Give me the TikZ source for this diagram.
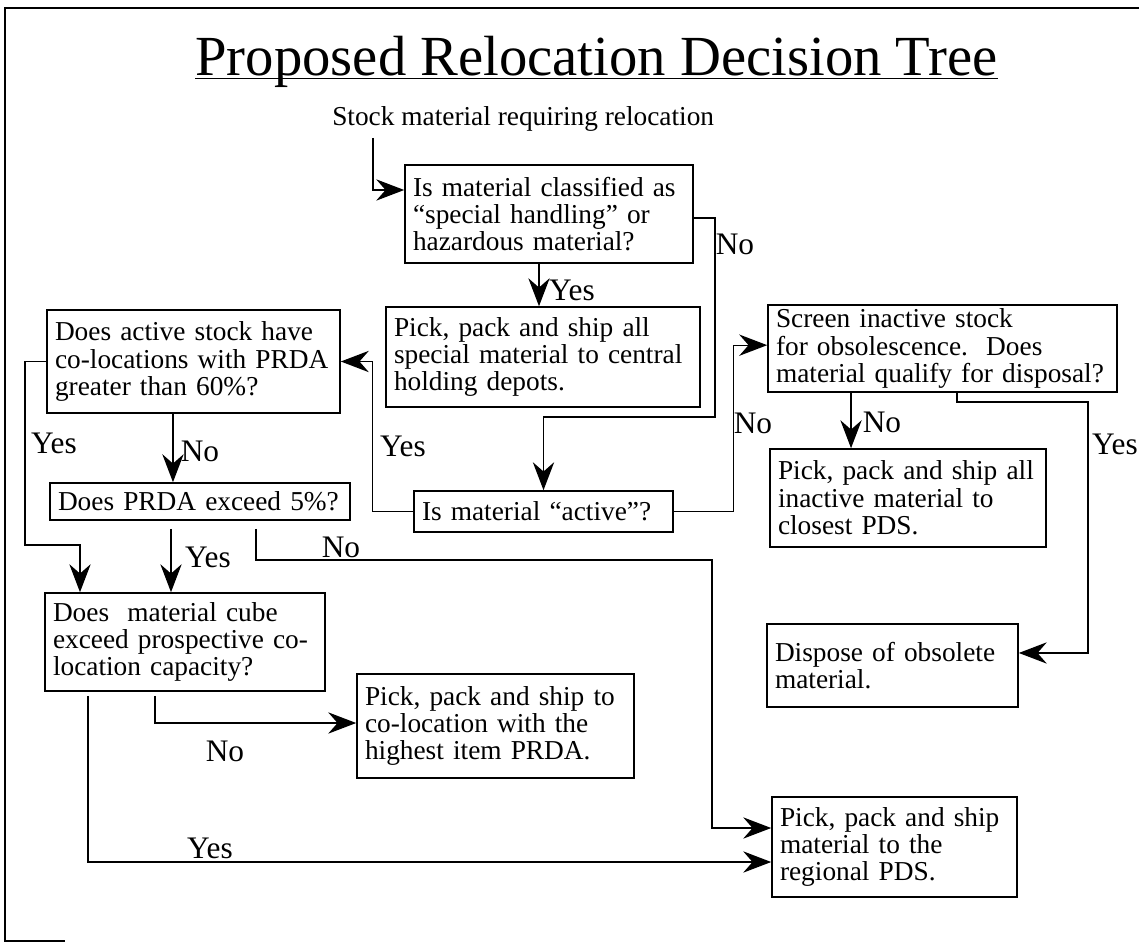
\documentclass[tikz,border=0pt]{standalone}
\usepackage{fontspec}
\setmainfont{Liberation Serif}
\usetikzlibrary{arrows.meta, positioning}
\newcommand\boxfont{\fontsize{20.5}{20.5}\selectfont}
\newcommand\lblfont{\fontsize{23.5}{23.5}\selectfont}
\newcommand\ttlfont{\fontsize{42.5}{42.5}\selectfont}

\begin{document}
\begin{tikzpicture}[x=0.75pt, y=-0.75pt,
		box/.style={draw, line width=1.2pt, align=left, inner xsep=6pt, inner ysep=0pt, font=\boxfont},
		lbl/.style={inner sep=0pt, font=\lblfont},
		arr/.style={-{Stealth[length=21pt, width=16pt, inset=7pt]}, line width=1pt}]
	\useasboundingbox (0,0) rectangle (1139,943);
	
	% Draw Frame
	\draw[line width=1.2pt] (1139,8) -- (5,8) -- (5,941) -- (65,941);
	
	% Draw Title
	\node[inner sep=0pt, anchor=base, font=\ttlfont] (title) at (596.5,75) {Proposed Relocation Decision Tree};
	\draw[line width=1pt] ([yshift=-2.5pt]title.base west) -- ([yshift=-2.5pt]title.base east);
	
	% Draw Boxes
	\node[inner sep=0pt, anchor=base west, font=\boxfont] (stock) at (332,125) {Stock material requiring relocation};
	\node[box, text width=204pt, minimum height=73.5pt] (classify) at (549,214) {Is material classified as\\“special handling” or\\hazardous material?};
	\node[box, text width=223.5pt, minimum height=75pt] (shipspecial) at (543,357) {Pick, pack and ship all\\special material to central\\holding depots.};
	\node[box, text width=207.75pt, minimum height=77.25pt] (colocate) at (193.5,361.5) {Does active stock have\\co-locations with PRDA\\greater than 60\%?};
	\node[box, text width=213pt, minimum height=27.75pt] (prda) at (200,501.5) {Does PRDA exceed 5\%?};
	\node[box, text width=198pt, minimum height=73.5pt] (cube) at (185,642) {Does\ \ material cube\\exceed prospective co-\\location capacity?};
	\node[box, text width=195.75pt, minimum height=78pt] (shiphigh) at (495.5,726) {Pick, pack and ship to\\co-location with the\\highest item PRDA.};
	\node[box, text width=171.75pt, minimum height=75pt] (shipregion) at (894.5,847) {Pick, pack and ship\\material to the\\regional PDS.};
	\node[box, text width=182.25pt, minimum height=30.75pt] (active) at (543.5,511.5) {Is material “active”?};
	\node[box, text width=249.75pt, minimum height=65.25pt] (screen) at (942.5,348.5) {Screen inactive stock\\for obsolescence.\ \ Does\\material qualify for disposal?};
	\node[box, text width=195pt, minimum height=73.5pt] (shipinactive) at (908,498) {Pick, pack and ship all\\inactive material to\\closest PDS.};
	\node[box, text width=176.25pt, minimum height=62.25pt] (dispose) at (892.5,665.5) {Dispose of obsolete\\material.};
	
	% Draw Bend Points
	\coordinate (classifyno) at (715,417);
	\coordinate (screenyes) at (1088,402);
	\coordinate (colocateyes) at (25,545);
	\coordinate (prdano) at (712,560);
	
	% Draw Connectors
	\draw[arr] ([xshift=30.75pt, yshift=-5pt]stock.south west) |- ([yshift=18pt]classify.west);
	\draw[arr] ([yshift=-3pt]classify.east) -| (classifyno) -| (active.north);
	\draw[arr] ([xshift=-7.5pt]classify.south) -- ([xshift=-7.5pt]classify.south |- shipspecial.north);
	\draw[arr] (active.west) -- ++(-41,0) |- (colocate.east);
	\draw[arr] (active.east) -- ++(60,0) |- ([yshift=2.5pt]screen.west);
	\draw[arr] ([xshift=-68.6pt]screen.south) -- ([xshift=-68.6pt]screen.south |- shipinactive.north);
	\draw[arr] ([xshift=10.9pt]screen.south) |- (screenyes) |- ([yshift=9.4pt]dispose.east);
	\draw[arr] (colocate.west) -| (colocateyes) -| ([xshift=-78.75pt]cube.north);
	\draw[arr] ([xshift=-15.4pt]colocate.south) -- ([xshift=-15.4pt]colocate.south |- prda.north);
	\draw[arr] ([xshift=-21.75pt, yshift=-6pt]prda.south) -- ([xshift=-21.75pt]prda.south |- cube.north);
	\draw[arr] ([xshift=42pt, yshift=-6pt]prda.south) |- (prdano) |- ([yshift=14.25pt]shipregion.west);
	\draw[arr] ([xshift=-22.5pt, yshift=-3pt]cube.south) |- ([yshift=2.25pt]shiphigh.west);
	\draw[arr] ([xshift=-72.75pt, yshift=-3pt]cube.south) |- ([yshift=-11.25pt]shipregion.west);
	
	% Draw Labels
	\node[lbl] (lclassifyno) at (735,244) {No};
	\node[lbl] (lclassifyyes) at (572,290) {Yes};
	\node[lbl] (lcolocateyes) at (54,443) {Yes};
	\node[lbl] (lcolocateno) at (200,451) {No};
	\node[lbl] (lprdayes) at (208,557) {Yes};
	\node[lbl] (lprdano) at (341,547) {No};
	\node[lbl] (lactiveyes) at (403,446) {Yes};
	\node[lbl] (lactiveno) at (753,423) {No};
	\node[lbl] (lscreenno) at (882,422) {No};
	\node[lbl] (lscreenyes) at (1115,444) {Yes};
	\node[lbl] (lcubeno) at (225,751) {No};
	\node[lbl] (lcubeyes) at (210,848) {Yes};
\end{tikzpicture}
\end{document}
